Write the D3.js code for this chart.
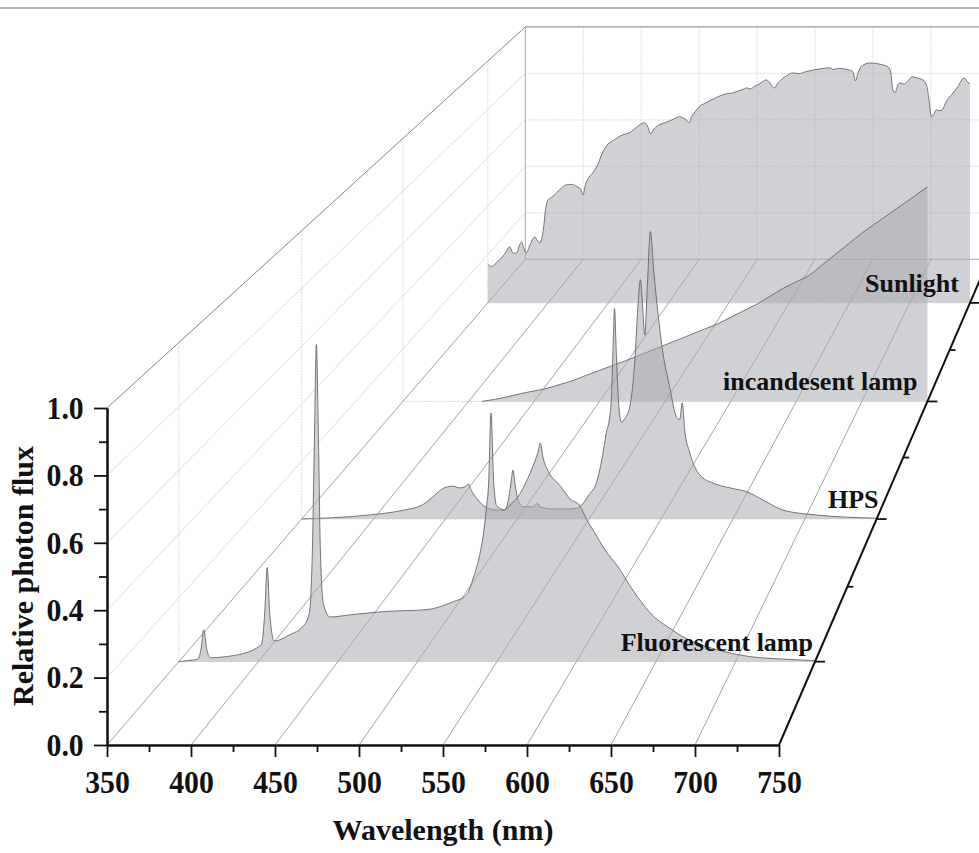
<!DOCTYPE html>
<html>
<head>
<meta charset="utf-8">
<script src="https://cdn.jsdelivr.net/npm/d3@7"></script>
<style>
  body { margin: 0; background: #fff; }
  text { font-family: "Liberation Serif", "Times New Roman", serif; font-weight: bold; fill: #111; }
</style>
</head>
<body>
<svg width="979" height="853"></svg>
<script>
// ---- data: [wavelength nm, relative photon flux] ----
var seriesNames = ["Sunlight", "incandesent lamp", "HPS", "Fluorescent lamp"];
var seriesDepth = [4, 3, 2, 1];

var sunlight = [[350,0.16],[353,0.15],[357,0.165],[362,0.19],[365,0.21],[368,0.232],[371,0.205],[374,0.207],
  [376,0.235],[378,0.252],[380,0.225],[382,0.207],[385,0.24],[389,0.273],[391,0.258],[393,0.248],[396,0.3],
  [398,0.39],[400,0.426],[404,0.44],[410,0.47],[415,0.488],[420,0.49],[424,0.48],[427,0.47],[429,0.447],
  [431,0.49],[434,0.52],[437,0.537],[441,0.57],[445,0.62],[449,0.653],[455,0.675],[462,0.695],[468,0.705],
  [473,0.725],[477,0.74],[480,0.745],[483,0.725],[485,0.699],[488,0.72],[492,0.736],[497,0.745],[502,0.755],
  [506,0.765],[509,0.77],[512,0.765],[514,0.76],[517,0.745],[519,0.77],[522,0.79],[525,0.81],[530,0.825],
  [537,0.843],[542,0.855],[548,0.865],[553,0.868],[557,0.875],[561,0.882],[565,0.889],[568,0.885],[571,0.895],
  [575,0.905],[578,0.915],[581,0.922],[584,0.91],[586,0.895],[588,0.889],[590,0.905],[594,0.925],[598,0.94],
  [603,0.951],[608,0.948],[613,0.955],[620,0.963],[626,0.968],[634,0.972],[637,0.965],[641,0.97],[645,0.968],
  [650,0.963],[653,0.955],[655,0.918],[657,0.95],[659,0.972],[662,0.985],[667,0.992],[672,0.99],[677,0.985],
  [682,0.976],[684,0.96],[686,0.881],[688,0.87],[690,0.9],[692,0.91],[695,0.905],[698,0.915],[702,0.935],
  [706,0.93],[711,0.922],[714,0.9],[716,0.84],[718,0.77],[720,0.78],[722,0.798],[725,0.795],[727,0.798],
  [730,0.83],[736,0.868],[740,0.895],[745,0.93],[748,0.914],[750,0.905]];

var incandescent = [[410,0],[420,0.008],[430,0.018],[440,0.03],[450,0.04],[460,0.05],[470,0.065],[480,0.08],
  [490,0.1],[500,0.118],[510,0.137],[520,0.155],[530,0.175],[540,0.195],[550,0.215],[560,0.235],[570,0.255],
  [580,0.275],[590,0.295],[600,0.32],[610,0.345],[620,0.37],[630,0.4],[640,0.43],[650,0.455],[660,0.48],
  [670,0.52],[680,0.56],[690,0.6],[700,0.64],[710,0.675],[720,0.71],[730,0.745],[740,0.78],[750,0.816]];

var hps = [[350,0],[370,0.004],[397,0.014],[420,0.03],[434,0.049],[442,0.08],[448,0.105],[455,0.114],[460,0.108],
  [464,0.113],[466,0.122],[468,0.1],[472,0.07],[477,0.045],[484,0.032],[491,0.03],[494,0.07],[496,0.14],
  [497,0.17],[498.5,0.12],[501,0.06],[504,0.043],[510,0.042],[512.5,0.048],[514,0.055],[516,0.042],[525,0.035],
  [535,0.035],[541,0.037],[546,0.055],[550,0.085],[555,0.125],[559,0.21],[562,0.3],[564.5,0.36],[565.5,0.42],
  [566.6,0.58],[567.7,0.73],[568.9,0.575],[570.7,0.39],[572.4,0.337],[575,0.35],[578.3,0.39],[581.8,0.55],
  [584.1,0.748],[585.7,0.83],[587.1,0.748],[588.7,0.638],[590.5,0.806],[592.6,0.997],[594.9,0.864],
  [597.9,0.713],[601.4,0.575],[606,0.459],[610.7,0.355],[613,0.345],[614.8,0.403],[616.5,0.309],[620,0.23],
  [627,0.153],[636,0.125],[648,0.108],[660,0.094],[671,0.066],[685,0.031],[708,0.014],[750,0.003]];

var fluorescent = [[350,0],[355,0.003],[362,0.008],[364,0.04],[365.7,0.1],[367.5,0.04],[370,0.012],[380,0.016],
  [390,0.025],[398,0.04],[402,0.055],[404,0.15],[405.6,0.295],[407.2,0.15],[410,0.065],[420,0.085],[428,0.11],
  [432,0.15],[434,0.35],[435.3,0.7],[436.5,0.994],[437.8,0.7],[439,0.35],[441,0.18],[445,0.14],[458,0.147],
  [479,0.157],[506,0.163],[521,0.185],[531,0.21],[535,0.26],[538,0.31],[541.6,0.403],[543.3,0.476],
  [544.8,0.56],[546.3,0.779],[548,0.56],[550,0.487],[555,0.476],[558,0.49],[563,0.515],[569,0.57],[574,0.63],
  [576,0.66],[577.3,0.685],[579,0.64],[582,0.6],[590,0.55],[596,0.51],[602,0.49],[607,0.44],[611,0.408],
  [618,0.35],[626,0.298],[636,0.22],[646,0.155],[660,0.1],[667,0.078],[688,0.038],[709,0.016],[730,0.008],
  [750,0.003]];

var seriesData = [sunlight, incandescent, hps, fluorescent];

var xMajor = [350, 400, 450, 500, 550, 600, 650, 700, 750];
var xMinor = [375, 425, 475, 525, 575, 625, 675, 725];
var yMajor = [0, 0.2, 0.4, 0.6, 0.8, 1.0];
var yMinor = [0.1, 0.3, 0.5, 0.7, 0.9];
var depthMajor = [1, 2, 3, 4];
var depthMinor = [1.5, 2.5, 3.5];

// ---- setting up svg + 3d projection ----
var svg = d3.select("svg");

// scales of the front plane (depth 0.5)
var x = d3.scaleLinear().domain([350, 750]).range([107, 779]);
var y = d3.scaleLinear().domain([0, 1]).range([745, 408]);
// perspective: inverse of size factor grows linearly with depth
var depth = d3.scaleLinear().domain([0.5, 4.5]).range([1, 1.45]);
var vp = [1455, -820]; // vanishing point

function project(nm, v, d) {
  var s = 1 / depth(d);
  return [vp[0] + s * (x(nm) - vp[0]), vp[1] + s * (y(v) - vp[1])];
}

function seg(g, a, b, color, w, dash) {
  g.append("line")
      .attr("x1", a[0]).attr("y1", a[1])
      .attr("x2", b[0]).attr("y2", b[1])
      .attr("stroke", color)
      .attr("stroke-width", w)
      .attr("stroke-dasharray", dash || null);
}

// figure border line at the top
svg.append("line")
    .attr("x1", 0).attr("x2", 979).attr("y1", 8).attr("y2", 8)
    .attr("stroke", "#9a9a9a").attr("stroke-width", 1.5);

// ---- grid ----
var grid = svg.append("g").attr("class", "grid");
var light = "#d4d4d4", dark = "#8c8c8c";

// back wall
xMajor.slice(1).forEach(function(t) {
  seg(grid, project(t, 0, 4.5), project(t, 1, 4.5), light, 0.8, "2,1");
});
yMajor.slice(1, -1).forEach(function(v) {
  seg(grid, project(350, v, 4.5), project(750, v, 4.5), light, 0.8, "2,1");
});
// left wall
yMajor.slice(1, -1).forEach(function(v) {
  seg(grid, project(350, v, 0.5), project(350, v, 4.5), light, 0.8);
});
depthMajor.forEach(function(d) {
  seg(grid, project(350, 0, d), project(350, 1, d), light, 0.8, "2,1");
  seg(grid, project(350, 0, d), project(750, 0, d), light, 0.8, "2,1");
});
// floor lines from each wavelength tick
xMajor.forEach(function(t) {
  seg(grid, project(t, 0, 0.5), project(t, 0, 4.5), dark, 0.8);
});
// box edges
seg(grid, project(350, 1, 0.5), project(350, 1, 4.5), "#777", 0.9);
seg(grid, project(350, 1, 4.5), project(750, 1, 4.5), "#999", 1.3);
seg(grid, project(350, 0, 4.5), project(350, 1, 4.5), "#aaa", 1);
seg(grid, project(350, 0, 4.5), project(750, 0, 4.5), "#aaa", 1);

// ---- spectra, back to front ----
var layers = svg.append("g").attr("class", "spectra");
seriesData.forEach(function(data, i) {
  var dep = seriesDepth[i];
  var base = project(350, 0, dep)[1];
  var area = d3.area()
      .x(function(d) { return project(d[0], d[1], dep)[0]; })
      .y0(base)
      .y1(function(d) { return project(d[0], d[1], dep)[1]; })
      .curve(d3.curveMonotoneX);
  layers.append("path")
      .datum(data)
      .attr("d", area)
      .attr("fill", "rgb(170,172,176)")
      .attr("fill-opacity", 0.55)
      .attr("stroke", "none");
  layers.append("path")
      .datum(data)
      .attr("d", area.lineY1())
      .attr("fill", "none")
      .attr("stroke", "#666")
      .attr("stroke-width", 0.9);
});

// series labels at right end of each baseline
var labelDx = [-11, -10, 2, -2];
seriesNames.forEach(function(name, i) {
  var p = project(750, 0, seriesDepth[i]);
  svg.append("text")
      .attr("x", p[0] + labelDx[i])
      .attr("y", p[1] - 11)
      .attr("text-anchor", "end")
      .style("font-size", "26px")
      .text(name);
});

// ---- axes ----
// tick labels in the figure are a bit taller and narrower than plain Times
function styleAxis(g) {
  g.select(".domain").attr("stroke", "#111").attr("stroke-width", 2);
  g.selectAll(".tick line").attr("stroke", "#111").attr("stroke-width", 1.8);
  g.selectAll(".tick text")
      .style("font-size", "32px")
      .attr("transform", "scale(0.93,1)")
      .attr("fill", "#111");
}

svg.append("g")
    .attr("transform", "translate(0,745)")
    .call(d3.axisBottom(x).tickValues(xMinor).tickSize(7).tickSizeOuter(0).tickFormat(""))
    .call(styleAxis);
svg.append("g")
    .attr("transform", "translate(0,745)")
    .call(d3.axisBottom(x).tickValues(xMajor).tickSize(12).tickSizeOuter(0).tickPadding(13).tickFormat(d3.format("d")))
    .call(styleAxis);

svg.append("g")
    .attr("transform", "translate(107,0)")
    .call(d3.axisLeft(y).tickValues(yMinor).tickSize(8).tickSizeOuter(0).tickFormat(""))
    .call(styleAxis);
svg.append("g")
    .attr("transform", "translate(107,0)")
    .call(d3.axisLeft(y).tickValues(yMajor).tickSize(13).tickSizeOuter(0).tickPadding(12).tickFormat(d3.format(".1f")))
    .call(styleAxis);

// depth axis on the right floor edge
var dAxis = svg.append("g").attr("class", "depth-axis");
seg(dAxis, project(750, 0, 0.5), project(750, 0, 4.5), "#111", 2);
depthMajor.forEach(function(d) {
  var p = project(750, 0, d);
  seg(dAxis, p, [p[0] + 10, p[1]], "#111", 1.8);
});
depthMinor.forEach(function(d) {
  var p = project(750, 0, d);
  seg(dAxis, p, [p[0] + 6, p[1]], "#111", 1.8);
});

// axis titles
svg.append("text")
    .attr("x", 443)
    .attr("y", 840)
    .attr("text-anchor", "middle")
    .style("font-size", "30px")
    .text("Wavelength (nm)");

svg.append("text")
    .attr("transform", "translate(33,576) rotate(-90)")
    .attr("text-anchor", "middle")
    .style("font-size", "30px")
    .text("Relative photon flux");
</script>
</body>
</html>
